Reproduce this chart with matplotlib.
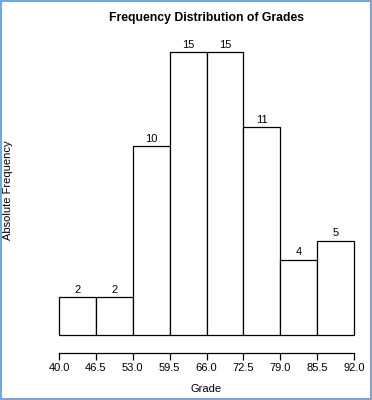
"""Frequency distribution of grades — R-style histogram."""
import matplotlib

matplotlib.use("Agg")
import matplotlib.pyplot as plt
from matplotlib.patches import Rectangle

bin_edges = [40.0, 46.5, 53.0, 59.5, 66.0, 72.5, 79.0, 85.5, 92.0]
counts = [2, 2, 10, 15, 15, 11, 4, 5]
tick_labels = ["40.0", "46.5", "53.0", "59.5", "66.0", "72.5", "79.0", "85.5", "92.0"]

plt.rcParams["font.family"] = ["Liberation Sans", "DejaVu Sans"]

fig = plt.figure(figsize=(3.72, 4.0), dpi=100)
ax = fig.add_axes([59 / 372, 65 / 400, 295 / 372, 283 / 400])

lefts = bin_edges[:-1]
widths = [b - a for a, b in zip(bin_edges[:-1], bin_edges[1:])]
ax.bar(lefts, counts, width=widths, align="edge", color="white",
       edgecolor="black", linewidth=0.9, clip_on=False)
for x, w, c in zip(lefts, widths, counts):
    ax.text(x + w / 2, c + 0.12, str(c), ha="center", va="bottom", fontsize=8)

ax.set_xlim(bin_edges[0], bin_edges[-1])
ax.set_ylim(0, max(counts))
ax.set_xticks(bin_edges)
ax.set_xticklabels(tick_labels)
ax.set_yticks([])
for s in ["top", "right", "left"]:
    ax.spines[s].set_visible(False)
ax.spines["bottom"].set_position(("outward", 13))
ax.spines["bottom"].set_linewidth(0.9)
ax.tick_params(axis="x", length=5, width=0.9, pad=2, labelsize=8)

ax.set_title("Frequency Distribution of Grades", fontsize=8.8,
             fontweight="bold", pad=22)
fig.text(206 / 372, 1 - 389 / 400, "Grade", ha="center", va="center", fontsize=8)
fig.text(8 / 372, 1 - 190 / 400, "Absolute Frequency", rotation=90,
         ha="center", va="center", fontsize=8)

# thin blue frame round the picture
fig.patches.append(Rectangle((0.002, 0.002), 0.996, 0.996, transform=fig.transFigure,
                             fill=False, edgecolor="#7aa6d6", linewidth=1.5))

fig.savefig("out.png", dpi=100)
